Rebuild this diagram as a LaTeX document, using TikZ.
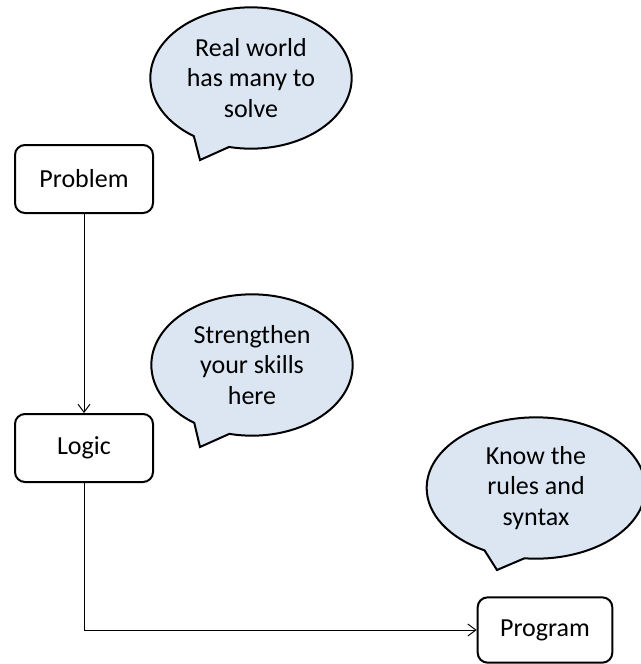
\documentclass[tikz,border=0pt]{standalone}
\usepackage{fontspec}
\setmainfont{Carlito}
\usetikzlibrary{shapes}
\usetikzlibrary{shapes.callouts}
\usetikzlibrary{arrows}
\usetikzlibrary{arrows.meta}

\definecolor{bubblefill}{RGB}{220,230,242}

\begin{document}
\begin{tikzpicture}[x=0.75pt,y=-0.75pt,
  stage/.style={draw, line width=1.5pt, rounded corners=7.5pt, minimum width=103.5pt,
    minimum height=51pt, font=\fontsize{19.5}{23}\selectfont},
  bubble/.style={ellipse callout, draw, line width=1.5pt, fill=bubblefill, align=center,
    inner sep=0pt, callout pointer arc=22, font=\fontsize{19.5}{23}\selectfont},
  link/.style={-{Straight Barb[length=6pt,width=9pt]}, line width=0.75pt}]
  \useasboundingbox (0,0) rectangle (640,664);
  % stages
  \node[stage] (problem) at (84,179) {Problem};
  \node[stage] (logic) at (84,448) {Logic};
  \node[stage, minimum width=101pt, minimum height=49pt] (program) at (545,630) {Program};
  % speech bubbles
  \coordinate (tipa) at (200,160);
  \coordinate (tipb) at (200,447);
  \coordinate (tipc) at (497,570);
  \node[bubble, minimum width=151pt, minimum height=106pt, callout absolute pointer={(tipa)}]
    (world) at (251,78) {Real world\\has many to\\solve};
  \node[bubble, minimum width=151pt, minimum height=106pt, callout absolute pointer={(tipb)}]
    (skills) at (252,365) {Strengthen\\your skills\\here};
  \node[bubble, minimum width=164pt, minimum height=106pt, callout absolute pointer={(tipc)}]
    (syntax) at (536,488) {Know the\\rules and\\syntax};
  % connectors
  \draw[link] (problem) -- (logic);
  \draw[link] (logic.south) |- (program.west);
\end{tikzpicture}
\end{document}
